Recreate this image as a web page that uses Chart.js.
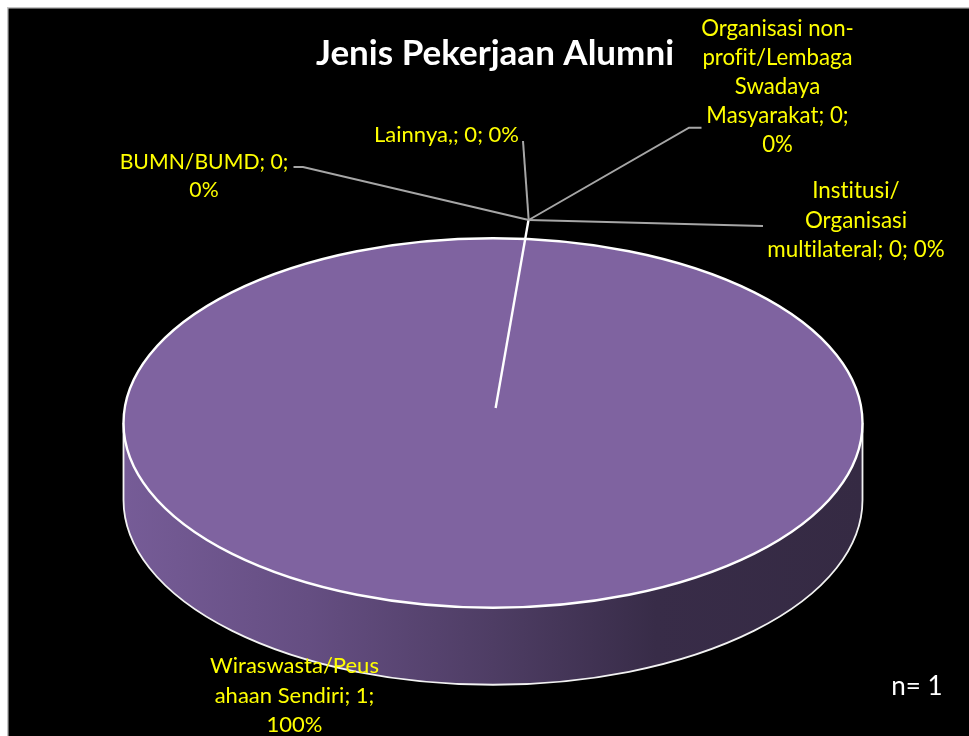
<!DOCTYPE html>
<html><head><meta charset="utf-8">
<style>html,body{margin:0;padding:0;background:#fff;overflow:hidden}#w{position:absolute;left:0;top:0;width:969px;height:736px}</style>
<script src="https://cdn.jsdelivr.net/npm/chart.js@4"></script>
</head><body><div id="w"><canvas id="c" width="969" height="736"></canvas></div>
<script>
const titleText = 'Jenis Pekerjaan Alumni';
const categories = ['Wiraswasta/Peusahaan Sendiri','Lainnya,','BUMN/BUMD','Institusi/Organisasi multilateral','Organisasi non-profit/Lembaga Swadaya Masyarakat'];
const values = [1,0,0,0,0];
const labelLines = [
  ['Wiraswasta/Peus','ahaan Sendiri; 1;','100%'],
  ['Lainnya,; 0; 0%'],
  ['BUMN/BUMD; 0;','0%'],
  ['Institusi/','Organisasi','multilateral; 0; 0%'],
  ['Organisasi non-','profit/Lembaga','Swadaya','Masyarakat; 0;','0%']
];
const noteText = 'n= 1';

const FONT = 'Lato, Carlito, sans-serif';
const TILT = 0.5, DEPTH = 77, FACE_X = 493, FACE_Y = 423, EXPLODE = 30, SPOKE_EXTRA = 8;
const HUB = {x:528.7, y:220};
const labelAnchors = [
  {x:294.5,y:666,lh:29.5,size:22},{x:446.5,y:135,lh:29,size:22},{x:204,y:162,lh:28.5,size:21.2},{x:856,y:191,lh:29.5,size:22.4},{x:777.5,y:29,lh:29,size:22.2}
];
const leaders = [
  null,
  [[523,141]],
  [[303,167],[293.5,167]],
  [[763,226]],
  [[689,127.7],[701.5,127.7]]
];

const pie3d = {
  id:'pie3d',
  beforeDraw(chart){
    const {ctx} = chart;
    ctx.save();
    ctx.fillStyle='#ffffff'; ctx.fillRect(0,0,969,736);
    ctx.fillStyle='#c4c4c4'; ctx.fillRect(7,7,962,729);
    ctx.fillStyle='#000000'; ctx.fillRect(8.5,8.5,960.5,727.5);
    ctx.restore();
  },
  beforeDatasetsDraw(chart){
    const {ctx} = chart, arc = chart.getDatasetMeta(0).data[0];
    const cx=FACE_X, R=arc.outerRadius, ry=R*TILT;
    ctx.save();
    const g=ctx.createLinearGradient(cx-R,0,cx+R,0);
    g.addColorStop(0,'#765c97');
    g.addColorStop(0.25,'#654e82');
    g.addColorStop(0.5,'#4e3d64');
    g.addColorStop(0.72,'#382c48');
    g.addColorStop(1,'#352a43');
    ctx.beginPath();
    ctx.ellipse(cx,FACE_Y,R,ry,0,0,Math.PI,false);
    ctx.lineTo(cx-R,FACE_Y+DEPTH);
    ctx.ellipse(cx,FACE_Y+DEPTH,R,ry,0,Math.PI,0,true);
    ctx.closePath();
    ctx.fillStyle=g; ctx.fill();
    ctx.beginPath();
    ctx.moveTo(cx-R,FACE_Y);
    ctx.lineTo(cx-R,FACE_Y+DEPTH);
    ctx.ellipse(cx,FACE_Y+DEPTH,R,ry,0,Math.PI,0,true);
    ctx.lineTo(cx+R,FACE_Y);
    ctx.strokeStyle='#f2f2f2'; ctx.lineWidth=1.8; ctx.stroke();
    ctx.restore();
    ctx.save();
    ctx.translate(FACE_X-arc.x,FACE_Y); ctx.scale(1,TILT); ctx.translate(0,-arc.y);
  },
  afterDatasetsDraw(chart){
    const {ctx} = chart, meta = chart.getDatasetMeta(0), arc = meta.data[0];
    ctx.restore();
    const cx=FACE_X, R=arc.outerRadius, ry=R*TILT;
    ctx.save();
    ctx.beginPath(); ctx.ellipse(cx,FACE_Y,R,ry,0,0,Math.PI*2);
    ctx.strokeStyle='#ffffff'; ctx.lineWidth=2.4; ctx.stroke();
    const a = meta.data[1].startAngle, dx=Math.cos(a), dy=Math.sin(a)*TILT;
    const r0=EXPLODE, r1=EXPLODE+R+SPOKE_EXTRA;
    ctx.beginPath(); ctx.moveTo(cx+r0*dx,FACE_Y+r0*dy); ctx.lineTo(cx+r1*dx,FACE_Y+r1*dy);
    ctx.strokeStyle='#ffffff'; ctx.lineWidth=2.4; ctx.stroke();
    ctx.strokeStyle='#a6a6a6'; ctx.lineWidth=2;
    leaders.forEach(l=>{ if(!l) return; ctx.beginPath(); ctx.moveTo(HUB.x,HUB.y); l.forEach(p=>ctx.lineTo(p[0],p[1])); ctx.stroke(); });
    ctx.textAlign='center'; ctx.textBaseline='middle';
    ctx.letterSpacing='0.01px';
    ctx.fillStyle='#ffff00';
    labelLines.forEach((lines,i)=>{ const p=labelAnchors[i]; ctx.font=p.size+'px '+FONT; lines.forEach((t,j)=>ctx.fillText(t,p.x,p.y+j*p.lh)); });
    ctx.fillStyle='#ffffff'; ctx.font='26px '+FONT;
    ctx.fillText(noteText,917,687);
    ctx.restore();
  }
};

new Chart(document.getElementById('c'),{
  type:'pie',
  data:{labels:categories,datasets:[{data:values,backgroundColor:'#7f63a0',borderWidth:0,radius:369.5,clip:false}]},
  options:{
    responsive:false,animation:false,rotation:5,
    layout:{padding:{left:21,right:0,top:0,bottom:0}},
    plugins:{legend:{display:false},tooltip:{enabled:false},
      title:{display:true,text:titleText,color:'#ffffff',font:{family:FONT,size:35,weight:'bold'},padding:{top:33,bottom:0}}}
  },
  plugins:[pie3d]
});
</script></body></html>
